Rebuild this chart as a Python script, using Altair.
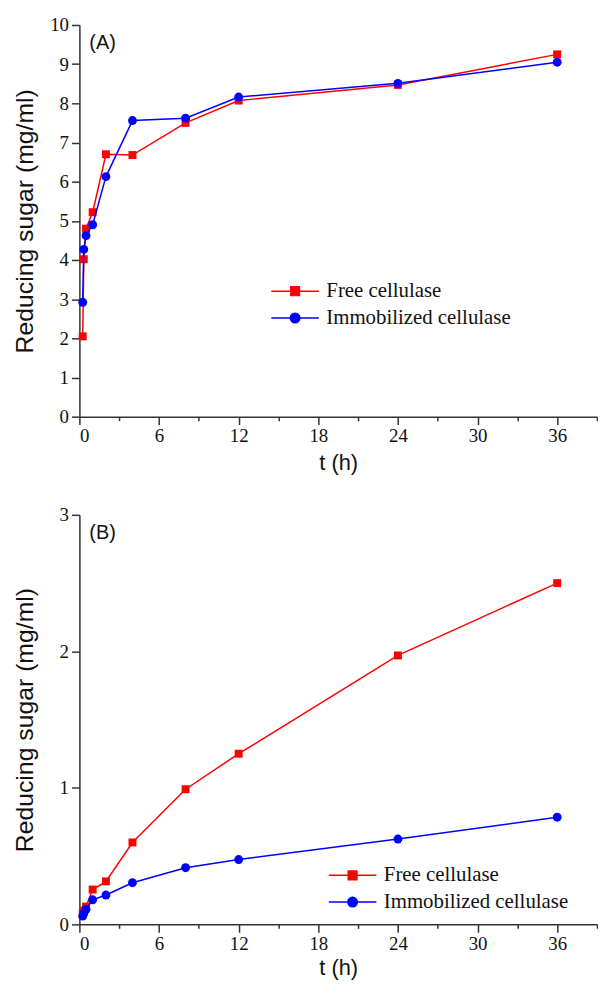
import altair as alt
import pandas as pd

# ---- data ----
t_hours = [0.25, 0.33, 0.5, 1, 2, 4, 8, 12, 24, 36]
a_free = [2.05, 4.02, 4.8, 5.22, 6.7, 6.68, 7.5, 8.07, 8.47, 9.25]
a_immob = [2.92, 4.27, 4.62, 4.9, 6.13, 7.56, 7.62, 8.16, 8.51, 9.05]
b_free = [0.08, 0.10, 0.13, 0.255, 0.315, 0.6, 0.99, 1.25, 1.97, 2.5]
b_immob = [0.06, 0.08, 0.11, 0.18, 0.215, 0.305, 0.415, 0.475, 0.625, 0.785]

series_names = ["Free cellulase", "Immobilized cellulase"]
series_colors = ["#ff0000", "#0000ff"]
series_shapes = ["square", "circle"]
series_sizes = [64, 80]
legend_paths = [
    "M-3,0H3M-0.55,-0.55H0.55V0.55H-0.55Z",
    "M-3,0H3M0.6,0A0.6,0.6,0,1,1,-0.6,0A0.6,0.6,0,1,1,0.6,0Z",
]

x_ticks = [0, 3, 6, 9, 12, 15, 18, 21, 24, 27, 30, 33, 36, 39]
ya_ticks = [0, 0.5, 1, 1.5, 2, 2.5, 3, 3.5, 4, 4.5, 5, 5.5, 6, 6.5, 7, 7.5, 8, 8.5, 9, 9.5, 10]
yb_ticks = [0, 0.5, 1, 1.5, 2, 2.5, 3]


def make_df(free, immob):
    rows = []
    for t, v in zip(t_hours, free):
        rows.append({"t": t, "v": v, "series": series_names[0]})
    for t, v in zip(t_hours, immob):
        rows.append({"t": t, "v": v, "series": series_names[1]})
    return pd.DataFrame(rows)


def panel(df, ymax, yticks, label, lx, ly, w, h, xtitle_pad):
    xs = alt.Scale(domain=[0, 39], nice=False, zero=False)
    ys = alt.Scale(domain=[0, ymax], nice=False, zero=False)
    xaxis = alt.Axis(values=x_ticks, title="t (h)", orient="bottom", grid=False,
                     labelExpr="datum.value % 6 === 0 ? datum.label : ''",
                     tickSize={"condition": {"test": "datum.value % 6 === 0", "value": 8}, "value": 4},
                     labelPadding=2, titlePadding=xtitle_pad, titleFontSize=22, format="d")
    yaxis = alt.Axis(values=yticks, title="Reducing sugar (mg/ml)", orient="left", grid=False,
                     labelExpr="datum.value % 1 === 0 ? datum.label : ''",
                     tickSize={"condition": {"test": "datum.value % 1 === 0", "value": 8}, "value": 4},
                     labelPadding=3, titleFontSize=25, titleX=-42, format="d")
    X = alt.X("t:Q", scale=xs, axis=xaxis)
    Y = alt.Y("v:Q", scale=ys, axis=yaxis)

    layers = []
    for name, col, shp, sz in zip(series_names, series_colors, series_shapes, series_sizes):
        sub = alt.Chart(df).transform_filter(alt.datum.series == name)
        layers.append(sub.mark_line(strokeWidth=1.5, color=col).encode(x=X, y=Y))
        layers.append(sub.mark_point(shape=shp, filled=True, size=sz, opacity=1, color=col)
                      .encode(x=X, y=Y))

    leg = alt.Legend(title=None, orient="none", legendX=lx, legendY=ly,
                     labelFont="Liberation Serif", labelFontSize=21, labelColor="#111",
                     labelLimit=0, symbolOpacity=1,
                     symbolSize=256, symbolStrokeWidth=1.5, labelOffset=21, rowPadding=5)
    legend_layer = (alt.Chart(df).transform_filter("datum.t < 0")
                    .mark_point(filled=True, opacity=1)
                    .encode(x=X, y=Y,
                            shape=alt.Shape("series:N", scale=alt.Scale(domain=series_names, range=legend_paths), legend=leg),
                            fill=alt.Fill("series:N", scale=alt.Scale(domain=series_names, range=series_colors), legend=leg),
                            stroke=alt.Stroke("series:N", scale=alt.Scale(domain=series_names, range=series_colors), legend=leg)))
    layers.append(legend_layer)

    txt = (alt.Chart(pd.DataFrame({"label": [label]}))
           .mark_text(font="Liberation Sans", fontSize=20, align="left", baseline="top", color="#111")
           .encode(text="label:N", x=alt.value(10), y=alt.value(8)))
    layers.append(txt)

    return alt.layer(*layers).properties(width=w, height=h)


top = panel(make_df(a_free, a_immob), 10, ya_ticks, "(A)", 207, 258, 522, 395, 7)
bottom = panel(make_df(b_free, b_immob), 3, yb_ticks, "(B)", 265, 353, 522, 413, 5)

chart = (alt.vconcat(top, bottom, spacing=33)
         .resolve_scale(shape="independent", fill="independent", stroke="independent")
         .resolve_legend(shape="independent", fill="independent", stroke="independent")
         .properties(padding={"left": 5, "top": 4, "right": 0, "bottom": 0})
         .configure_view(stroke=None)
         .configure_axis(labelFont="Liberation Serif", labelFontSize=19, labelColor="#111",
                         titleFont="Liberation Sans", titleFontWeight="normal", titleColor="#111",
                         domainColor="#333", tickColor="#333", domainWidth=1.5, tickWidth=1.5))

chart.save("out.html", embed_options={"renderer": "svg", "actions": False})
